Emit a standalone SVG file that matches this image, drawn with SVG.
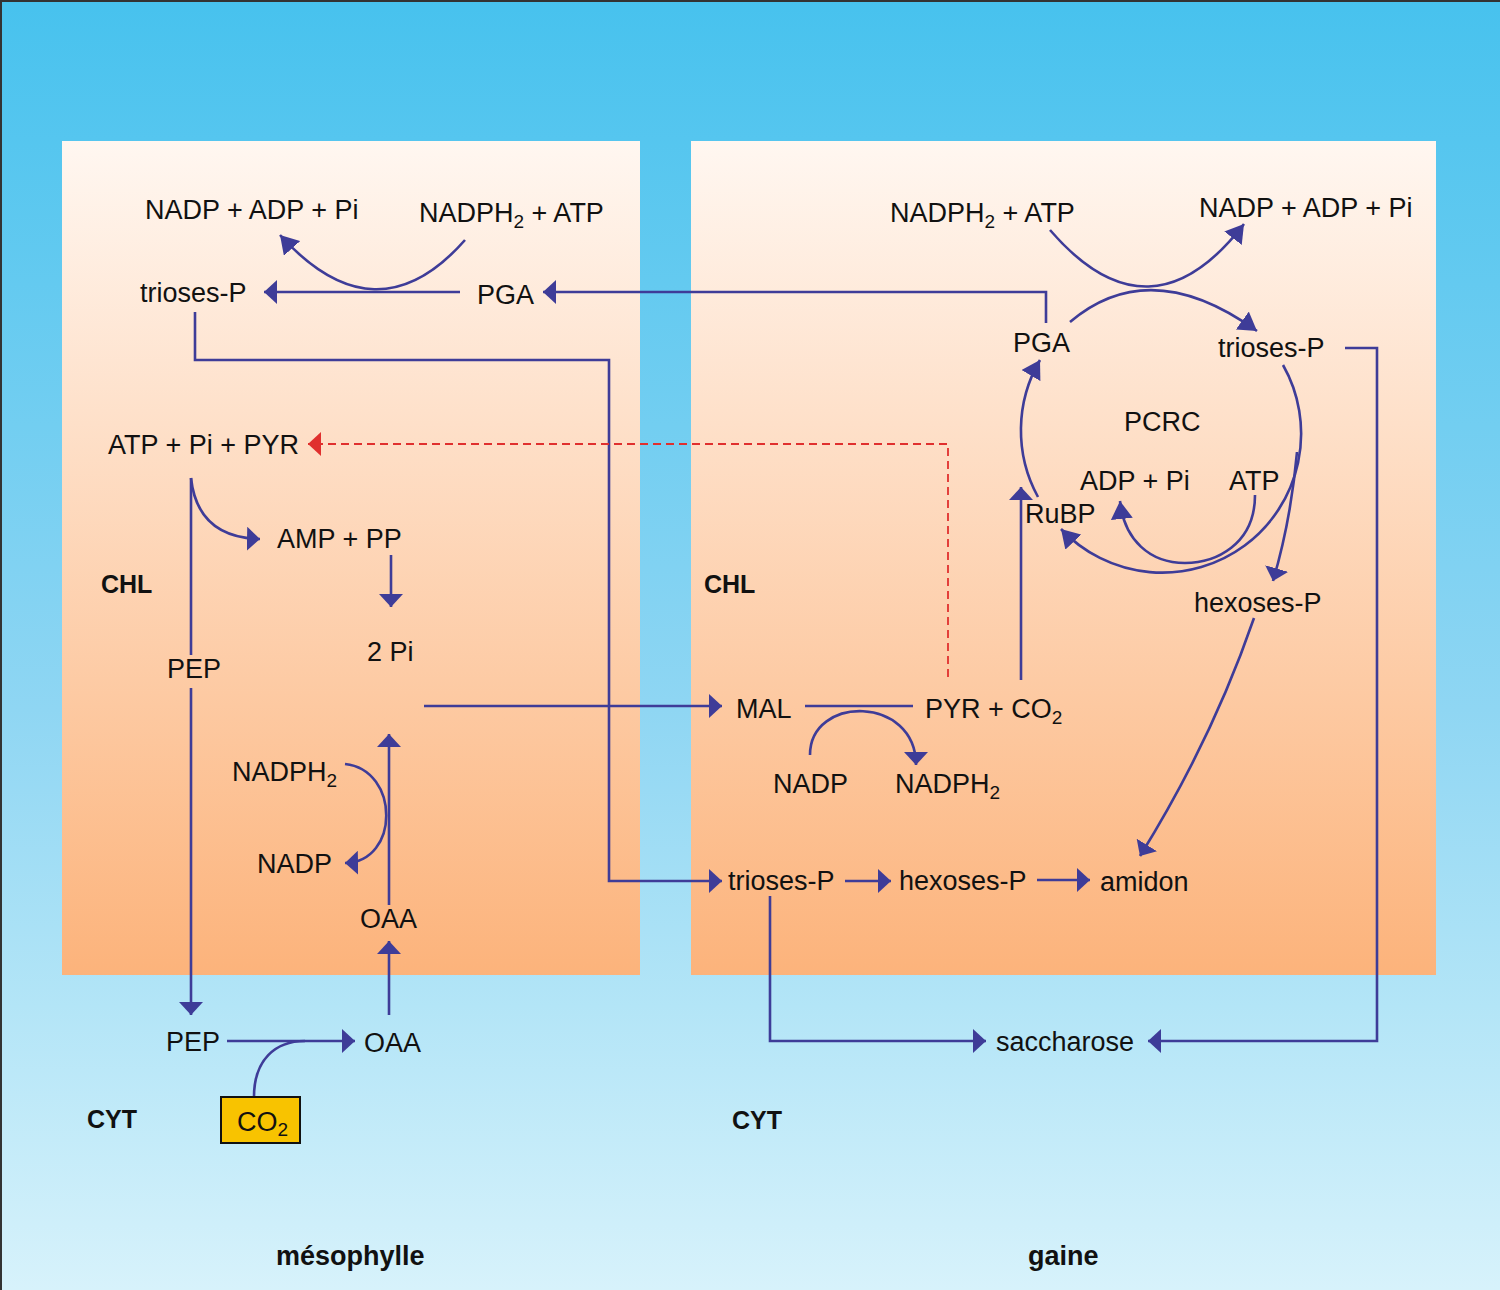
<svg xmlns="http://www.w3.org/2000/svg" width="1500" height="1290" viewBox="0 0 1500 1290">
<defs>
<linearGradient id="bg" x1="0" y1="0" x2="0" y2="1">
<stop offset="0" stop-color="#47c2ee"/>
<stop offset="0.55" stop-color="#8fd6f3"/>
<stop offset="0.78" stop-color="#b3e5f7"/>
<stop offset="1" stop-color="#d7f2fb"/>
</linearGradient>
<linearGradient id="pn" x1="0" y1="0" x2="0" y2="1">
<stop offset="0" stop-color="#fff7f1"/>
<stop offset="1" stop-color="#fcb37b"/>
</linearGradient>
<marker id="a" viewBox="0 0 13 24" refX="13" refY="12" markerWidth="13" markerHeight="24" markerUnits="userSpaceOnUse" orient="auto">
<path d="M0,0 L13,12 L0,24 z" fill="#3e3c98"/>
</marker>
<marker id="c" viewBox="0 0 18 22" refX="18" refY="11" markerWidth="18" markerHeight="22" markerUnits="userSpaceOnUse" orient="auto">
<path d="M0,0 L18,11 L0,22 z" fill="#3e3c98"/>
</marker>
<marker id="r" viewBox="0 0 13 24" refX="13" refY="12" markerWidth="13" markerHeight="24" markerUnits="userSpaceOnUse" orient="auto">
<path d="M0,0 L13,12 L0,24 z" fill="#e0302e"/>
</marker>
</defs>
<style>
text{font-family:"Liberation Sans",Arial,sans-serif;font-size:27px;fill:#111}
.b{font-weight:bold;font-size:25px}
.t{font-weight:bold;font-size:27px}
.s{font-size:19px}
.ln{fill:none;stroke:#3e3c98;stroke-width:2.6}
.st{marker-end:url(#a)}
.cv{marker-end:url(#c)}
</style>
<rect x="0" y="0" width="1500" height="1290" fill="url(#bg)"/>
<path d="M1,1290 V1 H1500" fill="none" stroke="#333" stroke-width="2"/>
<rect id="panel-mesophylle" x="62" y="141" width="578" height="834" fill="url(#pn)"/>
<rect id="panel-gaine" x="691" y="141" width="745" height="834" fill="url(#pn)"/>

<g id="connectors">
<!-- left panel -->
<path class="ln cv" d="M465,240 Q376,341 280,235"/>
<path class="ln st" d="M460,292 H264"/>
<path class="ln st" d="M1046,323 V292 H543"/>
<path class="ln st" d="M195,312 V360 H609 V881 H722"/>
<path d="M948,677 V444 H308" fill="none" stroke="#e0302e" stroke-width="1.8" stroke-dasharray="8,5" marker-end="url(#r)"/>
<path class="ln" d="M191,478 V655"/>
<path class="ln st" d="M191,688 V1015"/>
<path class="ln st" d="M191,478 C195,515 215,538 260,539"/>
<path class="ln st" d="M391,555 V607"/>
<path class="ln st" d="M424,706 H722"/>
<path class="ln st" d="M389,905 V734"/>
<path class="ln st" d="M345,764 C400,770 400,862 345,863"/>
<path class="ln st" d="M389,1015 V941"/>
<path class="ln st" d="M227,1041 H355"/>
<path class="ln" d="M254,1097 C254,1060 275,1041 305,1041"/>
<!-- right panel -->
<path class="ln cv" d="M1050,230 Q1150,346 1244,224"/>
<path class="ln cv" d="M1070,322 Q1150,254 1257,331"/>
<path class="ln cv" d="M1038,497 A139,139 0 0 1 1040,360"/>
<path class="ln cv" d="M1283,365 A139,139 0 0 1 1061,529"/>
<path class="ln st" d="M1297,452 Q1291,520 1273,581"/>
<path class="ln cv" d="M1255,495 C1255,545 1215,563 1185,563 C1150,563 1124,540 1120,501"/>
<path class="ln st" d="M1021,680 V487"/>
<path class="ln" d="M805,706 H913"/>
<path class="ln st" d="M810,755 C810,695 916,695 916,765"/>
<path class="ln st" d="M845,881 H891"/>
<path class="ln st" d="M1037,880 H1090"/>
<path class="ln st" d="M1254,618 Q1212,740 1140,856"/>
<path class="ln st" d="M770,896 V1041 H986"/>
<path class="ln st" d="M1345,348 H1377 V1041 H1148"/>
</g>

<g id="mesophylle-nodes">
<g id="m-nadp-adp-pi"><text x="145" y="219">NADP + ADP + Pi</text></g>
<g id="m-nadph2-atp"><text x="419" y="222">NADPH<tspan class="s" dy="6">2</tspan><tspan dy="-6"> + ATP</tspan></text></g>
<g id="m-trioses-p"><text x="140" y="302">trioses-P</text></g>
<g id="m-pga"><text x="477" y="304">PGA</text></g>
<g id="m-atp-pi-pyr"><text x="108" y="454">ATP + Pi + PYR</text></g>
<g id="m-amp-pp"><text x="277" y="548">AMP + PP</text></g>
<g id="m-chl"><text class="b" x="101" y="593">CHL</text></g>
<g id="m-pep1"><text x="167" y="678">PEP</text></g>
<g id="m-2pi"><text x="367" y="661">2 Pi</text></g>
<g id="m-nadph2"><text x="232" y="781">NADPH<tspan class="s" dy="6">2</tspan></text></g>
<g id="m-nadp"><text x="257" y="873">NADP</text></g>
<g id="m-oaa1"><text x="360" y="928">OAA</text></g>
<g id="m-pep2"><text x="166" y="1051">PEP</text></g>
<g id="m-oaa2"><text x="364" y="1052">OAA</text></g>
<g id="m-cyt"><text class="b" x="87" y="1128">CYT</text></g>
<g id="m-co2"><rect x="221" y="1097" width="79" height="46" fill="#f8c300" stroke="#111" stroke-width="2"/><text x="237" y="1131">CO<tspan class="s" dy="5">2</tspan></text></g>
<g id="m-label"><text class="t" x="276" y="1265">mésophylle</text></g>
</g>

<g id="gaine-nodes">
<g id="g-nadph2-atp"><text x="890" y="222">NADPH<tspan class="s" dy="6">2</tspan><tspan dy="-6"> + ATP</tspan></text></g>
<g id="g-nadp-adp-pi"><text x="1199" y="217">NADP + ADP + Pi</text></g>
<g id="g-pga"><text x="1013" y="352">PGA</text></g>
<g id="g-trioses-p1"><text x="1218" y="357">trioses-P</text></g>
<g id="g-pcrc"><text x="1124" y="431">PCRC</text></g>
<g id="g-adp-pi"><text x="1080" y="490">ADP + Pi</text></g>
<g id="g-atp"><text x="1229" y="490">ATP</text></g>
<g id="g-rubp"><text x="1025" y="523">RuBP</text></g>
<g id="g-chl"><text class="b" x="704" y="593">CHL</text></g>
<g id="g-hexoses-p1"><text x="1194" y="612">hexoses-P</text></g>
<g id="g-mal"><text x="736" y="718">MAL</text></g>
<g id="g-pyr-co2"><text x="925" y="718">PYR + CO<tspan class="s" dy="6">2</tspan></text></g>
<g id="g-nadp"><text x="773" y="793">NADP</text></g>
<g id="g-nadph2"><text x="895" y="793">NADPH<tspan class="s" dy="6">2</tspan></text></g>
<g id="g-trioses-p2"><text x="728" y="890">trioses-P</text></g>
<g id="g-hexoses-p2"><text x="899" y="890">hexoses-P</text></g>
<g id="g-amidon"><text x="1100" y="891">amidon</text></g>
<g id="g-saccharose"><text x="996" y="1051">saccharose</text></g>
<g id="g-cyt"><text class="b" x="732" y="1129">CYT</text></g>
<g id="g-label"><text class="t" x="1028" y="1265">gaine</text></g>
</g>
</svg>
